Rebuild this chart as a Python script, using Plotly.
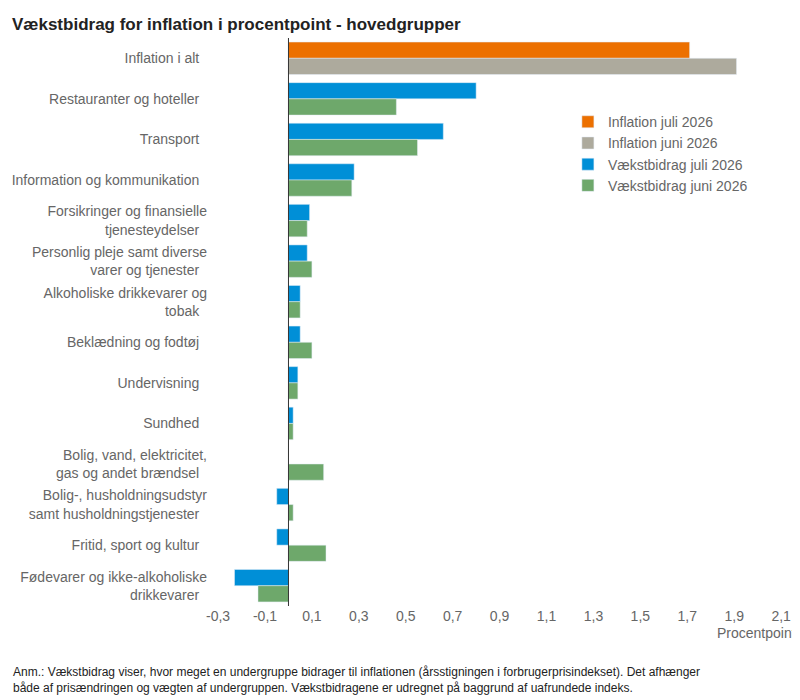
import plotly.graph_objects as go

categories = [
    "Inflation i alt",
    "Restauranter og hoteller",
    "Transport",
    "Information og kommunikation",
    "Forsikringer og finansielle<br>tjenesteydelser",
    "Personlig pleje samt diverse<br>varer og tjenester",
    "Alkoholiske drikkevarer og<br>tobak",
    "Beklædning og fodtøj",
    "Undervisning",
    "Sundhed",
    "Bolig, vand, elektricitet,<br>gas og andet brændsel",
    "Bolig-, husholdningsudstyr<br>samt husholdningstjenester",
    "Fritid, sport og kultur",
    "Fødevarer og ikke-alkoholiske<br>drikkevarer",
]
inflation_juli = [1.71] + [None] * 13
inflation_juni = [1.91] + [None] * 13
bidrag_juli = [None, 0.80, 0.66, 0.28, 0.09, 0.08, 0.05, 0.05, 0.04, 0.02, 0.0, -0.05, -0.05, -0.23]
bidrag_juni = [None, 0.46, 0.55, 0.27, 0.08, 0.10, 0.05, 0.10, 0.04, 0.02, 0.15, 0.02, 0.16, -0.13]
tick_vals = [-0.3, -0.1, 0.1, 0.3, 0.5, 0.7, 0.9, 1.1, 1.3, 1.5, 1.7, 1.9, 2.1]

fig = go.Figure()
series = [
    ("Inflation juli 2026", inflation_juli, "#EC7000", -0.4),
    ("Inflation juni 2026", inflation_juni, "#ADAA9D", 0.0),
    ("Vækstbidrag juli 2026", bidrag_juli, "#008FD7", -0.4),
    ("Vækstbidrag juni 2026", bidrag_juni, "#6EA86B", 0.0),
]
for name, vals, color, off in series:
    fig.add_trace(go.Bar(
        y=categories, x=vals, name=name, orientation="h",
        marker=dict(color=color), width=0.4, offset=off,
    ))

grey = "#666666"
fig.update_layout(
    width=800, height=700,
    barmode="overlay",
    paper_bgcolor="white", plot_bgcolor="white",
    font=dict(family="Arial, Liberation Sans", color=grey, size=14),
    title=dict(text="<b>Vækstbidrag for inflation i procentpoint - hovedgrupper</b>",
               x=0.005, xanchor="left", y=0.985, font=dict(size=17, color="#222222")),
    margin=dict(l=200, r=10, t=30, b=102),
    xaxis=dict(range=[-0.343, 2.172], tickvals=tick_vals,
               ticktext=[f"{v:.1f}".replace(".", ",") for v in tick_vals],
               showgrid=False, zeroline=False, showline=False, ticks="",
               automargin=False, tickfont=dict(size=14)),
    yaxis=dict(autorange="reversed", showgrid=False, showline=False, ticks="",
               ticksuffix="  ", automargin=False, tickfont=dict(size=14)),
    legend=dict(x=0.61, y=0.88, xanchor="left", yanchor="top",
                bgcolor="rgba(0,0,0,0)", font=dict(size=14, color=grey),
                itemwidth=30, tracegroupgap=0),
    shapes=[dict(type="line", xref="x", yref="paper", x0=0, x1=0, y0=0, y1=1,
                 line=dict(color="#333333", width=1))],
    annotations=[
        dict(text="Procentpoint", xref="paper", yref="paper", x=1, y=-0.065,
             xanchor="right", showarrow=False, font=dict(size=14, color=grey)),
        dict(text="Anm.: Vækstbidrag viser, hvor meget en undergruppe bidrager til inflationen (årsstigningen i forbrugerprisindekset). Det afhænger<br>både af prisændringen og vægten af undergruppen. Vækstbidragene er udregnet på baggrund af uafrundede indeks.",
             xref="paper", yref="paper", x=-0.334, y=-0.1, xanchor="left", yanchor="top",
             align="left", showarrow=False, font=dict(size=12, color="#222222")),
    ],
)
fig.write_html("out.html")
